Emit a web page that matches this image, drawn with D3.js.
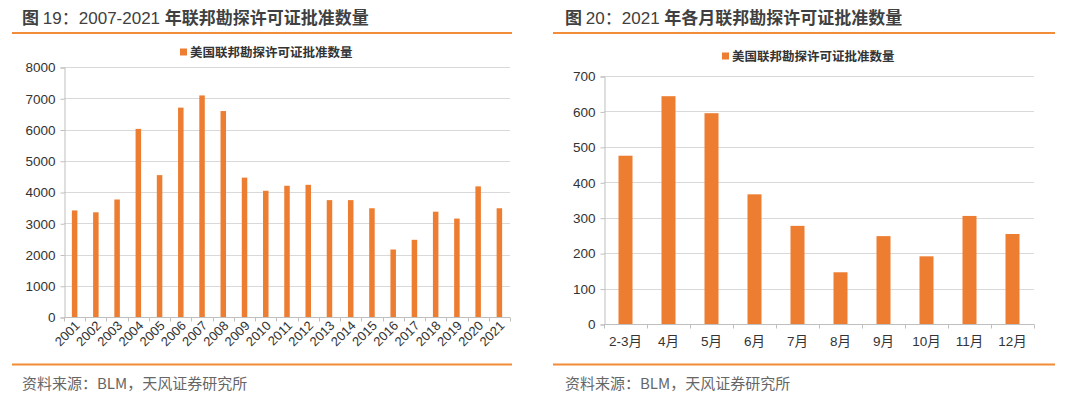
<!DOCTYPE html>
<html>
<head>
<meta charset="utf-8">
<script src="https://cdn.jsdelivr.net/npm/d3@7"></script>
<style>
  body { margin: 0; background: #fff; }
  svg { display: block; font-family: "Liberation Sans", Arial, "Noto Sans CJK SC", sans-serif; }
</style>
</head>
<body>
<svg id="chart" width="1080" height="399"></svg>
<script>
// 图19 yearly data
var years = ['2001', '2002', '2003', '2004', '2005', '2006', '2007', '2008', '2009', '2010', '2011',
    '2012', '2013', '2014', '2015', '2016', '2017', '2018', '2019', '2020', '2021'];
var yearCounts = [3410, 3350, 3760, 6020, 4540, 6700, 7090, 6590, 4460, 4040, 4200,
    4230, 3740, 3740, 3480, 2160, 2470, 3370, 3150, 4180, 3480];
var yearTicks = [0, 1000, 2000, 3000, 4000, 5000, 6000, 7000, 8000];

// 图20 monthly data 2021
var months = ['2-3月', '4月', '5月', '6月', '7月', '8月', '9月', '10月', '11月', '12月'];
var monthCounts = [475, 643, 595, 366, 277, 146, 248, 191, 305, 254];
var monthTicks = [0, 100, 200, 300, 400, 500, 600, 700];

var seriesName = '美国联邦勘探许可证批准数量';
var source = '资料来源：BLM，天风证券研究所';

var orange = '#ED7D31';
var lineOrange = '#F28C38';
var cjk = '"Noto Sans CJK SC", sans-serif';

var svg = d3.select('#chart');

function panel(opt) {
    var g = svg.append('g');

    // title
    var t = g.append('text')
        .attr('x', opt.titleX).attr('y', 24)
        .attr('font-size', 17)
        .attr('fill', '#404040');
    opt.title.forEach(function (p) {
        t.append('tspan')
            .attr('font-weight', p[1] ? 'bold' : 'normal')
            .attr('font-family', p[1] ? cjk : null)
            .text(p[0]);
    });

    g.append('line')
        .attr('x1', opt.lineX[0]).attr('x2', opt.lineX[1])
        .attr('y1', 33).attr('y2', 33)
        .attr('stroke', lineOrange).attr('stroke-width', 2);
    g.append('line')
        .attr('x1', opt.lineX[0]).attr('x2', opt.lineX[1])
        .attr('y1', 364.5).attr('y2', 364.5)
        .attr('stroke', lineOrange).attr('stroke-width', 2);

    g.append('text')
        .attr('x', opt.titleX).attr('y', 389)
        .attr('font-size', 15)
        .attr('font-family', cjk)
        .attr('fill', '#666')
        .text(source);

    // legend
    g.append('rect')
        .attr('x', opt.legendX).attr('y', opt.legendY - 3.5)
        .attr('width', 7).attr('height', 7)
        .attr('fill', orange);
    g.append('text')
        .attr('x', opt.legendX + 10).attr('y', opt.legendY + 4.5)
        .attr('font-size', 12.5)
        .attr('font-weight', 'bold')
        .attr('font-family', cjk)
        .attr('fill', '#333')
        .text(seriesName);

    var x = d3.scaleBand().domain(opt.cats).range([opt.x0, opt.x1]);
    var y = d3.scaleLinear().domain([0, opt.max]).range([opt.y0, opt.y1]);

    // grid
    g.append('g').selectAll('line').data(opt.ticks.slice(1)).enter()
        .append('line')
        .attr('x1', opt.x0).attr('x2', opt.x1)
        .attr('y1', d => Math.round(y(d)) + 0.5).attr('y2', d => Math.round(y(d)) + 0.5)
        .attr('stroke', '#d9d9d9');

    // y axis
    var yAxis = d3.axisLeft(y).tickValues(opt.ticks).tickFormat(d3.format('d'))
        .tickSize(4).tickPadding(5);
    var yg = g.append('g')
        .attr('transform', 'translate(' + (opt.x0 + 0.5) + ',0.5)')
        .call(yAxis);
    yg.select('.domain').attr('stroke', '#bfbfbf');
    yg.selectAll('.tick line').attr('stroke', '#bfbfbf');
    yg.selectAll('.tick text')
        .attr('font-size', 13.5).attr('fill', '#333')
        .attr('font-family', '"Liberation Sans", Arial, sans-serif');

    // bars
    g.append('g').selectAll('rect').data(opt.vals).enter()
        .append('rect')
        .attr('x', (d, i) => x(opt.cats[i]) + (x.bandwidth() - opt.barW) / 2)
        .attr('width', opt.barW)
        .attr('y', d => y(d))
        .attr('height', d => opt.y0 - y(d))
        .attr('fill', orange);

    // x axis with boundary ticks
    var xg = g.append('g').attr('transform', 'translate(0,' + (Math.round(opt.y0) + 0.5) + ')');
    xg.append('line')
        .attr('x1', opt.x0).attr('x2', opt.x1)
        .attr('stroke', '#bfbfbf');
    var bounds = opt.cats.map(c => x(c)).concat([opt.x1]);
    xg.selectAll('line.tk').data(bounds).enter()
        .append('line').attr('class', 'tk')
        .attr('x1', d => Math.round(d) + 0.5).attr('x2', d => Math.round(d) + 0.5)
        .attr('y1', 0).attr('y2', 4)
        .attr('stroke', '#bfbfbf');

    var labels = xg.selectAll('text').data(opt.cats).enter()
        .append('text')
        .attr('fill', '#333')
        .text(d => d);
    if (opt.rotate) {
        labels
            .attr('font-size', 13)
            .attr('text-anchor', 'end')
            .attr('transform', d => 'translate(' + (x(d) + x.bandwidth() / 2 + 6) + ',9) rotate(-45)');
    } else {
        labels
            .attr('font-size', 13.5)
            .attr('font-family', '"Liberation Sans", Arial, "Noto Sans CJK SC", sans-serif')
            .attr('text-anchor', 'middle')
            .attr('x', d => x(d) + x.bandwidth() / 2)
            .attr('y', 21);
    }
}

panel({
    title: [['图 ', true], ['19：2007-2021 ', false], ['年联邦勘探许可证批准数量', true]],
    titleX: 22, lineX: [12, 512],
    legendX: 180, legendY: 52,
    cats: years, vals: yearCounts, ticks: yearTicks, max: 8000,
    x0: 64, x1: 510, y0: 317, y1: 67, barW: 5.5, rotate: true
});

panel({
    title: [['图 ', true], ['20：2021 ', false], ['年各月联邦勘探许可证批准数量', true]],
    titleX: 565, lineX: [553, 1055],
    legendX: 722, legendY: 56,
    cats: months, vals: monthCounts, ticks: monthTicks, max: 700,
    x0: 604, x1: 1034, y0: 324, y1: 76, barW: 14, rotate: false
});
</script>
</body>
</html>
